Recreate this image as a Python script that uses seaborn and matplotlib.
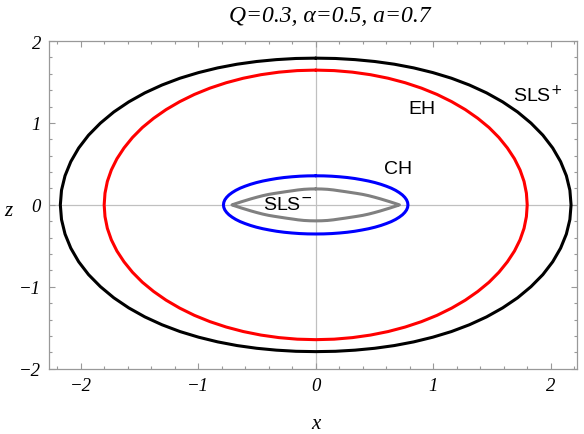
import numpy as np
import pandas as pd
import matplotlib
matplotlib.use("Agg")
import matplotlib.pyplot as plt
import seaborn as sns
from matplotlib.ticker import MultipleLocator

# first-quadrant points (x, z), top of curve -> equator
sls_plus_x = [0.0, 0.168, 0.335, 0.503, 0.669, 0.834, 0.996, 1.155, 1.308, 1.454,
              1.591, 1.718, 1.832, 1.933, 2.017, 2.084, 2.133, 2.163, 2.173]
sls_plus_z = [1.791, 1.787, 1.773, 1.750, 1.717, 1.672, 1.615, 1.546, 1.463, 1.367,
              1.257, 1.134, 0.998, 0.851, 0.694, 0.528, 0.356, 0.179, 0.0]

eh_x = [0.0, 0.157, 0.3125, 0.466, 0.616, 0.761, 0.900, 1.0325, 1.157, 1.273,
        1.379, 1.475, 1.559, 1.631, 1.6915, 1.739, 1.773, 1.793, 1.800]
eh_z = [1.645, 1.639, 1.620, 1.589, 1.546, 1.491, 1.425, 1.348, 1.260, 1.163,
        1.057, 0.944, 0.8225, 0.695, 0.563, 0.426, 0.286, 0.143, 0.0]

ch_x = [0.0, 0.0685, 0.136, 0.203, 0.2685, 0.332, 0.3925, 0.450, 0.505, 0.555,
        0.601, 0.643, 0.680, 0.711, 0.738, 0.758, 0.773, 0.782, 0.785]
ch_z = [0.355, 0.354, 0.350, 0.343, 0.334, 0.322, 0.307, 0.291, 0.272, 0.251,
        0.228, 0.204, 0.1775, 0.150, 0.121, 0.092, 0.062, 0.031, 0.0]

sls_minus_x = [0.0, 0.05, 0.1, 0.15, 0.2, 0.25, 0.3, 0.35, 0.4, 0.45, 0.5, 0.55,
               0.6, 0.63, 0.66, 0.69, 0.712]
sls_minus_z = [0.195, 0.1938, 0.190, 0.1825, 0.172, 0.162, 0.151, 0.140, 0.128,
               0.1125, 0.094, 0.074, 0.052, 0.039, 0.025, 0.011, 0.0]

curve_names = ["SLS+", "EH", "CH", "SLS-"]
curve_colors = ["black", "#ff0000", "#0000ff", "#808080"]


def full_loop(xq, zq):
    # mirror the quadrant into a closed curve (symmetric about both axes)
    x = np.asarray(xq)
    z = np.asarray(zq)
    xs = np.concatenate([x, x[::-1][1:], -x[1:], -x[::-1][1:]])
    zs = np.concatenate([z, -z[::-1][1:], -z[1:], z[::-1][1:]])
    return xs, zs


sns.set_theme(style="ticks")
plt.rcParams['font.family'] = ['Liberation Serif', 'DejaVu Serif']
plt.rcParams['text.color'] = 'black'

fig = plt.figure(figsize=(5.84, 4.35), dpi=100)
ax = fig.add_axes([0.0844, 0.150, 0.9031, 0.7534])

ax.axhline(0, color="#c0c0c0", lw=0.9, zorder=0)
ax.axvline(0, color="#c0c0c0", lw=0.9, zorder=0)

quads = [(sls_plus_x, sls_plus_z), (eh_x, eh_z), (ch_x, ch_z), (sls_minus_x, sls_minus_z)]
for name, col, (qx, qz) in zip(curve_names, curve_colors, quads):
    xs, zs = full_loop(qx, qz)
    df = pd.DataFrame({"x": xs, "z": zs})
    sns.lineplot(data=df, x="x", y="z", sort=False, estimator=None,
                 color=col, lw=2.2, ax=ax, solid_joinstyle="round")

ax.set_xlim(-2.267, 2.221)
ax.set_ylim(-2, 2)
ax.set_xlabel("")
ax.set_ylabel("")

ax.xaxis.set_major_locator(MultipleLocator(1))
ax.xaxis.set_minor_locator(MultipleLocator(0.2))
ax.yaxis.set_major_locator(MultipleLocator(1))
ax.yaxis.set_minor_locator(MultipleLocator(0.2))
ax.tick_params(which="both", direction="in", top=True, right=True,
               color="#999999", width=0.8)
ax.tick_params(which="major", length=4, labelsize=13.5, labelcolor="black", pad=6)
ax.tick_params(which="minor", length=2)
for lab in ax.get_xticklabels() + ax.get_yticklabels():
    lab.set_fontstyle("italic")
for sp in ax.spines.values():
    sp.set_color("#999999")
    sp.set_linewidth(0.9)

sans = ['Liberation Sans', 'DejaVu Sans']
ax.text(1.89, 1.34, "SLS$^{+}$", family=sans, fontsize=14, color="black", ha="center", va="center")
ax.text(0.905, 1.18, "EH", family=sans, fontsize=14, color="black", ha="center", va="center")
ax.text(0.70, 0.44, "CH", family=sans, fontsize=14, color="black", ha="center", va="center")
ax.text(-0.24, 0.01, "SLS$^{-}$", family=sans, fontsize=14, color="black", ha="center", va="center")

fig.text(0.565, 0.962, "Q=0.3, α=0.5, a=0.7", fontsize=17, style="italic",
         color="black", ha="center", va="center")
fig.text(0.541, 0.025, "x", fontsize=15, style="italic", color="black", ha="center", va="center")
fig.text(0.014, 0.513, "z", fontsize=15, style="italic", color="black", ha="center", va="center")

fig.savefig("out.png", dpi=100)
